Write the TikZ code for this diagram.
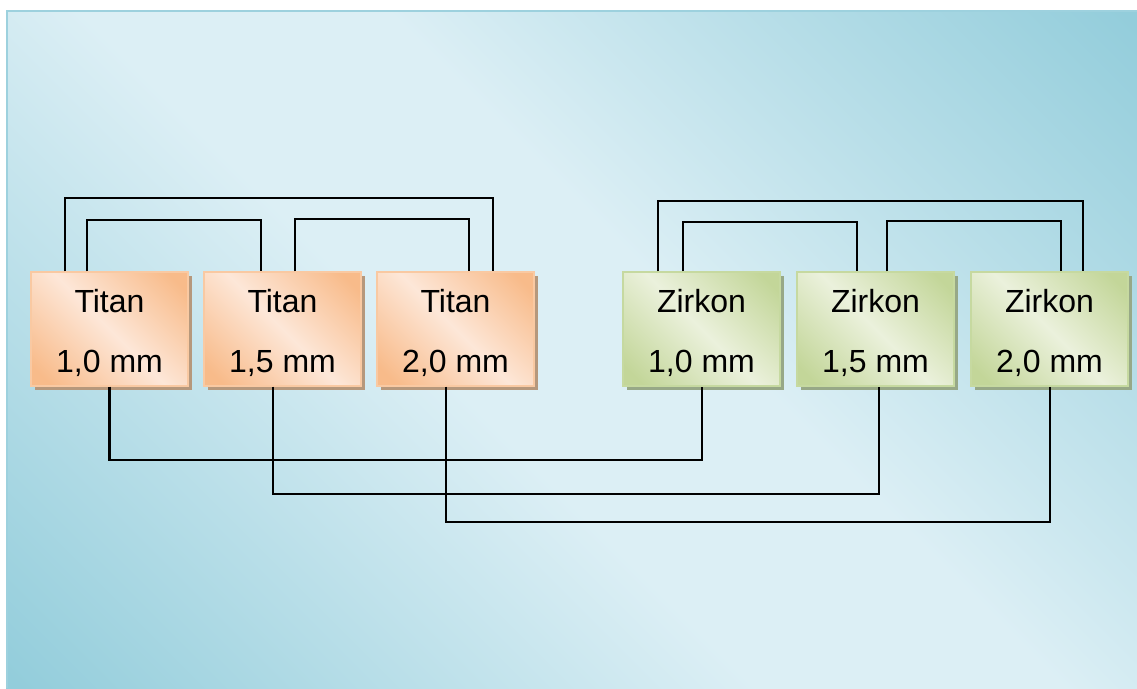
\documentclass[tikz,border=0pt]{standalone}
\usepackage{fontspec}
\setmainfont{Liberation Sans}
\usetikzlibrary{shadows}
\definecolor{bgdark}{HTML}{93CDDB}
\definecolor{bglight}{HTML}{DCEFF5}
\definecolor{bgborder}{HTML}{9DD1DE}
\definecolor{tidark}{HTML}{F8BB8A}
\definecolor{tilight}{HTML}{FDE7D8}
\definecolor{tiborder}{HTML}{F9C9A2}
\definecolor{tishadow}{HTML}{B6987C}
\definecolor{zidark}{HTML}{C3D699}
\definecolor{zilight}{HTML}{EBF1DC}
\definecolor{ziborder}{HTML}{C6D9A0}
\definecolor{zishadow}{HTML}{97A887}
\pgfdeclarehorizontalshading{bgshade}{100bp}{color(0bp)=(bgdark); color(15bp)=(bgdark); color(44bp)=(bglight); color(56bp)=(bglight); color(85bp)=(bgdark); color(100bp)=(bgdark)}
\pgfdeclarehorizontalshading{tishade}{100bp}{color(0bp)=(tidark); color(20bp)=(tidark); color(50bp)=(tilight); color(80bp)=(tidark); color(100bp)=(tidark)}
\pgfdeclarehorizontalshading{zishade}{100bp}{color(0bp)=(zidark); color(20bp)=(zidark); color(50bp)=(zilight); color(80bp)=(zidark); color(100bp)=(zidark)}
\begin{document}
\begin{tikzpicture}[x=1pt,y=-1pt,
  box/.style={rectangle, minimum width=157pt, minimum height=114pt, inner sep=0pt, line width=1.2pt},
  titanbox/.style={box, draw=tiborder, shade, shading=tishade, shading angle=45,
    general shadow={shadow xshift=4pt, shadow yshift=-4pt, fill=tishadow}},
  zirkonbox/.style={box, draw=ziborder, shade, shading=zishade, shading angle=45,
    general shadow={shadow xshift=4pt, shadow yshift=-4pt, fill=zishadow}},
  lbl/.style={font=\fontsize{32}{38}\selectfont, anchor=base, inner sep=0pt},
  conn/.style={draw=black, line width=2.1pt}]
\useasboundingbox (0,0) rectangle (1137,688);
\fill[shading=bgshade, shading angle=45] (6,10) rectangle (1137,688);
\draw[bgborder, line width=2pt] (7,688) -- (7,11) -- (1137,11);

% boxes
\node[titanbox] (t1) at (109.5,329) {};
\node[titanbox] (t2) at (282.5,329) {};
\node[titanbox] (t3) at (455.5,329) {};
\node[zirkonbox] (z1) at (701.5,329) {};
\node[zirkonbox] (z2) at (875.5,329) {};
\node[zirkonbox] (z3) at (1049.5,329) {};

% labels
\foreach \b/\n/\v in {t1/Titan/{1,0 mm}, t2/Titan/{1,5 mm}, t3/Titan/{2,0 mm},
                      z1/Zirkon/{1,0 mm}, z2/Zirkon/{1,5 mm}, z3/Zirkon/{2,0 mm}}{
  \node[lbl] (\b n) at ([yshift=17pt]\b.center) {\n};
  \node[lbl] (\b v) at ([yshift=-43pt]\b.center) {\v};
}

% top connectors Titan
\draw[conn] ([xshift=-44.5pt]t1.north) -- ++(0,-73) -| ([xshift=37.5pt]t3.north);
\draw[conn] ([xshift=-22.5pt]t1.north) -- ++(0,-51) -| ([xshift=-21.5pt]t2.north);
\draw[conn] ([xshift=12.5pt]t2.north) -- ++(0,-52) -| ([xshift=13.5pt]t3.north);
% top connectors Zirkon
\draw[conn] ([xshift=-43.5pt]z1.north) -- ++(0,-70) -| ([xshift=33.5pt]z3.north);
\draw[conn] ([xshift=-18.5pt]z1.north) -- ++(0,-49) -| ([xshift=-18.5pt]z2.north);
\draw[conn] ([xshift=11.5pt]z2.north) -- ++(0,-50) -| ([xshift=11.5pt]z3.north);
% bottom connectors
\draw[conn] (t1.south) -- ++(0,73) -| ([xshift=0.5pt]z1.south);
\draw[conn] ([xshift=-9.5pt]t2.south) -- ++(0,107) -| ([xshift=3.5pt]z2.south);
\draw[conn] ([xshift=-9.5pt]t3.south) -- ++(0,135) -| ([xshift=0.5pt]z3.south);
\end{tikzpicture}
\end{document}
